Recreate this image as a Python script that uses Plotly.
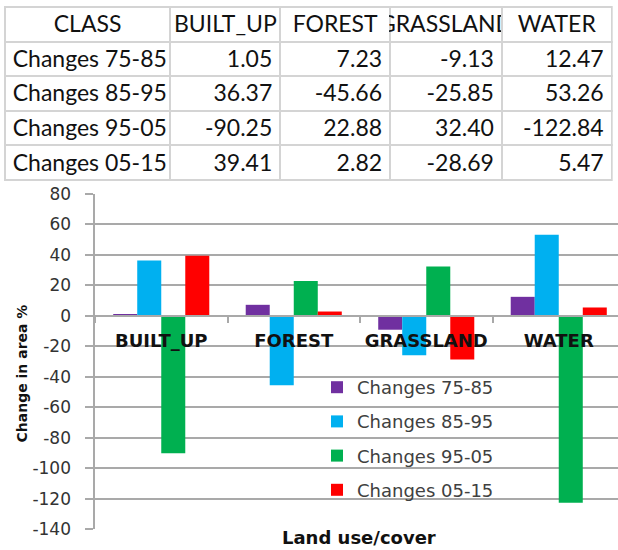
import plotly.graph_objects as go

# ---- data ----
categories = ["BUILT_UP", "FOREST", "GRASSLAND", "WATER"]
series_names = ["Changes 75-85", "Changes 85-95", "Changes 95-05", "Changes 05-15"]
changes_75_85 = [1.05, 7.23, -9.13, 12.47]
changes_85_95 = [36.37, -45.66, -25.85, 53.26]
changes_95_05 = [-90.25, 22.88, 32.40, -122.84]
changes_05_15 = [39.41, 2.82, -28.69, 5.47]
series_values = [changes_75_85, changes_85_95, changes_95_05, changes_05_15]
colors = ["#7030A0", "#00B0F0", "#00B050", "#FF0000"]
y_ticks = list(range(-140, 81, 20))

W, H = 618, 550
fig = go.Figure()

# ---- table ----
header_vals = ["CLASS"] + categories
cols = [[n.replace(" ", "\u00a0") for n in series_names]]
for ci in range(len(categories)):
    cols.append(["{:.2f}".format(s[ci]) for s in series_values])

tbl_font = dict(family="Lato", size=23, color="#111111")
fig.add_trace(go.Table(
    domain=dict(x=[4.7 / W, 612.3 / W], y=[1 - 188 / H, 1 - 7 / H]),
    columnwidth=[166, 110, 110, 112, 110],
    header=dict(values=header_vals, align="center", height=34.6,
                fill_color="white", line=dict(color="#d4d4d4", width=2),
                font=tbl_font),
    cells=dict(values=cols, align=["left", "right", "right", "right", "right"],
               height=34.6, fill_color="white",
               line=dict(color="#d4d4d4", width=2), font=tbl_font),
))

# ---- bars ----
for name, vals, col in zip(series_names, series_values, colors):
    fig.add_trace(go.Bar(x=categories, y=vals, name=name, marker_color=col,
                         marker_line_width=0, legendgroup=name))

# y tick labels with an invisible trailing pad to push them away from the axis
pad = "<span style='color:rgba(0,0,0,0)'>0</span>"
y_ticktext = ["{}{}".format(v, pad) for v in y_ticks]

y0, y1 = 21 / H, 356 / H
x_pos = y0 + (0 - (-140)) / 220 * (y1 - y0)
grid = "#a9a9a9"
fig.update_layout(
    width=W, height=H, template="none",
    margin=dict(l=0, r=0, t=0, b=0),
    paper_bgcolor="white", plot_bgcolor="white",
    barmode="group", bargap=0.275, bargroupgap=0,
    xaxis=dict(domain=[95 / W, 1], range=[-0.5, -0.5 + (W - 95) / 132.5],
               anchor="free", position=x_pos, showline=True, linecolor=grid,
               linewidth=1.5, ticks="outside", tickson="boundaries", ticklen=6,
               tickcolor=grid, tickwidth=1.5, showgrid=False, automargin=False,
               tickangle=0, ticklabelstandoff=9,
               tickfont=dict(family="DejaVu Sans", size=18, color="#111111",
                             weight="bold")),
    yaxis=dict(domain=[y0, y1], range=[-140, 80], tickvals=y_ticks,
               ticktext=y_ticktext,
               showline=True, linecolor=grid, linewidth=1.5, ticks="outside",
               ticklen=8, tickcolor=grid, tickwidth=1.5, showgrid=True,
               gridcolor=grid, gridwidth=1.5, zeroline=False, automargin=False,
               tickfont=dict(family="DejaVu Sans", size=17, color="#333333")),
    legend=dict(x=317 / W, y=1 - 369 / H, xanchor="left", yanchor="top",
                bgcolor="rgba(0,0,0,0)", tracegroupgap=7.8, itemwidth=30,
                font=dict(family="DejaVu Sans", size=18, color="#404040")),
    showlegend=True,
    annotations=[
        dict(text="Change in area %", textangle=-90, x=21.5 / W, y=1 - 374 / H,
             xref="paper", yref="paper", xanchor="center", yanchor="middle",
             showarrow=False,
             font=dict(family="DejaVu Sans", size=14, color="#111111",
                       weight="bold")),
        dict(text="Land use/cover", x=359 / W, y=0, xref="paper",
             yref="paper", xanchor="center", yanchor="bottom", showarrow=False,
             font=dict(family="DejaVu Sans", size=18, color="#111111",
                       weight="bold")),
    ],
)

fig.write_html("out.html", config={"displayModeBar": False},
               post_script="document.body.style.margin='0px';")
